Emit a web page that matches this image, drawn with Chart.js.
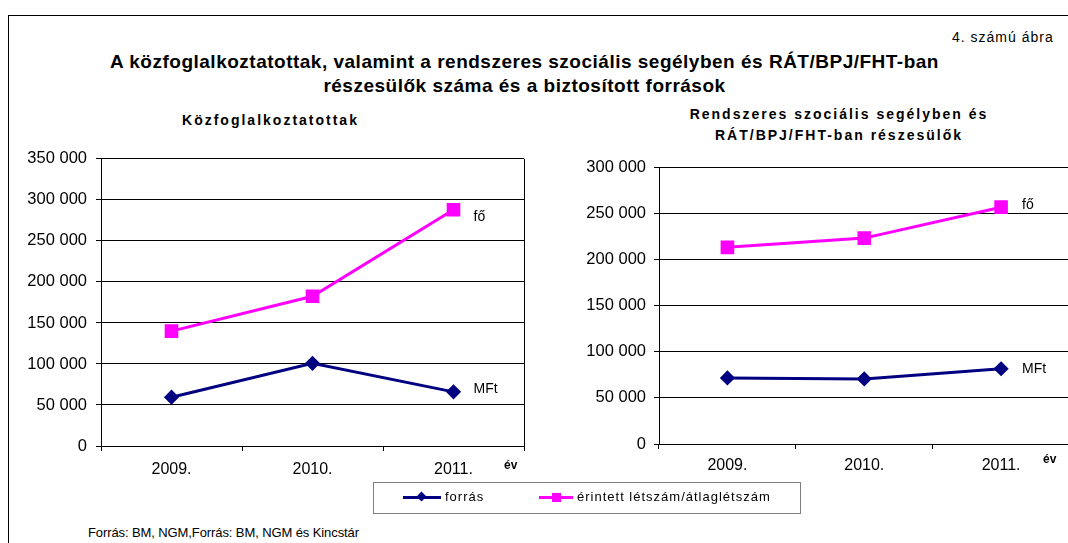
<!DOCTYPE html>
<html>
<head>
<meta charset="utf-8">
<script src="https://cdn.jsdelivr.net/npm/chart.js"></script>
<style>
  body { margin: 0; background: #fff; font-family: Arial, "Liberation Sans", sans-serif; }
  #wrap { position: relative; width: 1068px; height: 543px; overflow: hidden; background: #fff; }
  #frame { position: absolute; left: 8px; top: 15px; width: 1200px; height: 700px; border: 1px solid #000; }
  .txt { position: absolute; white-space: nowrap; color: #000; }
  canvas { position: absolute; }
  .leg-line { position: absolute; height: 3px; }
</style>
</head>
<body>
<div id="wrap">
  <div id="frame"></div>

  <div class="txt" style="left:952px; top:29px; font-size:14px; letter-spacing:1px;">4. számú ábra</div>
  <div class="txt" style="left:0; width:1049px; top:50px; text-align:center; font-size:19px; font-weight:bold; letter-spacing:0.5px; line-height:24px;">A közfoglalkoztatottak, valamint a rendszeres szociális segélyben és RÁT/BPJ/FHT-ban<br>részesülők száma és a biztosított források</div>

  <div class="txt" style="left:0; width:541px; top:112px; text-align:center; font-size:14px; font-weight:bold; letter-spacing:2px;">Közfoglalkoztatottak</div>
  <div class="txt" style="left:0; width:1678px; top:104px; text-align:center; font-size:14px; font-weight:bold; letter-spacing:2px; line-height:21px;">Rendszeres szociális segélyben és<br>RÁT/BPJ/FHT-ban részesülők</div>

  <canvas id="chart_left" width="540" height="345" style="left:0; top:140px;"></canvas>
  <canvas id="chart_right" width="520" height="345" style="left:560px; top:140px;"></canvas>

  <div class="txt" style="left:504px; top:458px; font-size:12px; font-weight:bold;">év</div>
  <div class="txt" style="left:1043px; top:452px; font-size:12px; font-weight:bold;">év</div>

  <!-- közös jelmagyarázat -->
  <div style="position:absolute; left:373px; top:482px; width:426px; height:30px; border:1px solid #808080;"></div>
  <div class="leg-line" style="left:403px; top:496px; width:38px; background:#000080;"></div>
  <div style="position:absolute; left:418px; top:493px; width:7px; height:7px; background:#000080; transform:rotate(45deg);"></div>
  <div class="txt" style="left:445px; top:489px; font-size:13px; letter-spacing:1px;">forrás</div>
  <div class="leg-line" style="left:539px; top:496px; width:34px; background:#ff00ff;"></div>
  <div style="position:absolute; left:552px; top:493px; width:9px; height:9px; background:#ff00ff;"></div>
  <div class="txt" style="left:577px; top:489px; font-size:13px; letter-spacing:1px;">érintett létszám/átlaglétszám</div>

  <div class="txt" style="left:88px; top:525px; font-size:13px; letter-spacing:-0.1px;">Forrás: BM, NGM,Forrás: BM, NGM és Kincstár</div>
</div>

<script>
// Adatok
var years = ['2009.', '2010.', '2011.'];
var series_names = ['forrás', 'érintett létszám/átlaglétszám'];
var unit_labels = ['MFt', 'fő'];

// Közfoglalkoztatottak
var forras_kozf = [59500, 100800, 66000];
var letszam_kozf = [140000, 182500, 288000];

// Rendszeres szociális segély és RÁT/BPJ/FHT
var forras_rszs = [71500, 70500, 81500];
var letszam_rszs = [213000, 223000, 256500];

var navy = '#000080';
var magenta = '#ff00ff';
var font_family = 'Arial, "Liberation Sans", sans-serif';

function fmt(v) {
    return String(v).replace(/\B(?=(\d{3})+(?!\d))/g, ' ');
}

// keret a rajzterület körül + mértékegység feliratok az utolsó pontnál
var extras = {
    id: 'extras',
    afterDatasetsDraw: function (chart, args, opts) {
        var ctx = chart.ctx;
        var a = chart.chartArea;
        ctx.save();
        ctx.strokeStyle = '#000';
        ctx.lineWidth = 1;
        ctx.beginPath();
        ctx.moveTo(Math.round(a.right) + 0.5, a.top);
        ctx.lineTo(Math.round(a.right) + 0.5, a.bottom);
        ctx.stroke();

        ctx.fillStyle = '#000';
        ctx.font = '14px ' + font_family;
        ctx.textBaseline = 'middle';
        chart.data.datasets.forEach(function (ds, i) {
            var meta = chart.getDatasetMeta(i);
            var p = meta.data[meta.data.length - 1];
            ctx.fillText(unit_labels[i], p.x + opts.dx, p.y + opts.dy[i]);
        });
        ctx.restore();
    }
};

function make_chart(id, forras, letszam, ymax, o) {
    var ctx = document.getElementById(id).getContext('2d');
    return new Chart(ctx, {
        type: 'line',
        data: {
            labels: years,
            datasets: [{
                label: series_names[0],
                data: forras,
                borderColor: navy,
                backgroundColor: navy,
                pointBackgroundColor: navy,
                pointBorderColor: navy,
                borderWidth: 3,
                pointStyle: 'rectRot',
                pointRadius: 5.5,
                tension: 0,
                fill: false
            }, {
                label: series_names[1],
                data: letszam,
                borderColor: magenta,
                backgroundColor: magenta,
                pointBackgroundColor: magenta,
                pointBorderColor: magenta,
                borderWidth: 3,
                pointStyle: 'rect',
                pointRadius: 7.5,
                tension: 0,
                fill: false
            }]
        },
        plugins: [extras],
        options: {
            responsive: false,
            animation: false,
            events: [],
            layout: { padding: { top: o.top, right: o.right, left: 0, bottom: 0 } },
            plugins: {
                legend: { display: false },
                tooltip: { enabled: false },
                extras: { dx: o.dx, dy: o.dy }
            },
            scales: {
                x: {
                    offset: true,
                    grid: { offset: true, drawOnChartArea: false, tickLength: 5, color: '#000' },
                    border: { color: '#000' },
                    ticks: { color: '#000', padding: o.xpad, font: { family: font_family, size: 16 } },
                    afterFit: function (s) { s.height = o.xh; }
                },
                y: {
                    min: 0,
                    max: ymax,
                    grid: { color: '#000', tickLength: 5 },
                    border: { color: '#000' },
                    ticks: {
                        stepSize: 50000,
                        color: '#000',
                        padding: o.ypad,
                        font: { family: font_family, size: 16.5 },
                        callback: function (v) { return fmt(v); }
                    },
                    afterFit: function (s) { s.width = o.yw; }
                }
            }
        }
    });
}

make_chart('chart_left', forras_kozf, letszam_kozf, 350000,
    { top: 17, right: 16, yw: 101, xh: 39, xpad: 9, ypad: 9, dx: 20, dy: [-3, 7] });

make_chart('chart_right', forras_rszs, letszam_rszs, 300000,
    { top: 27, right: 9, yw: 99, xh: 41, xpad: 7, ypad: 8, dx: 21, dy: [0, -2] });
</script>
</body>
</html>
